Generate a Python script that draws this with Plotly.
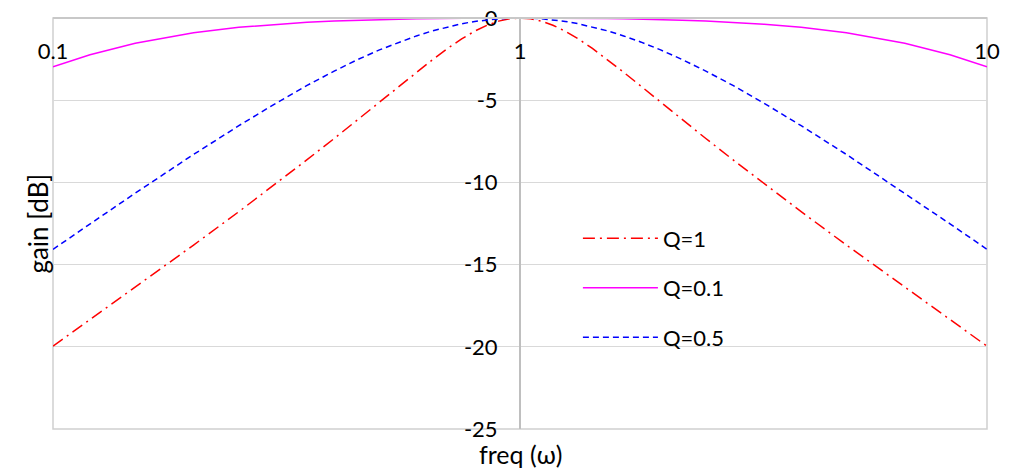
import plotly.graph_objects as go

freq = [0.1, 0.12, 0.15, 0.2, 0.25, 0.3, 0.35, 0.4, 0.45, 0.5, 0.55, 0.6, 0.65, 0.7, 0.75,
        0.8, 0.85, 0.9, 0.95, 1.0, 1.053, 1.111, 1.176, 1.25, 1.333, 1.429, 1.538, 1.667,
        1.818, 2.0, 2.222, 2.5, 2.857, 3.333, 4.0, 5.0, 6.667, 8.333, 10.0]

gain_q1 = [-19.96, -18.35, -16.38, -13.81, -11.78, -10.09, -8.62, -7.33, -6.17, -5.12,
           -4.16, -3.30, -2.53, -1.85, -1.27, -0.80, -0.44, -0.19, -0.05, 0.0,
           -0.05, -0.19, -0.44, -0.80, -1.27, -1.85, -2.53, -3.30, -4.16, -5.12,
           -6.17, -7.33, -8.62, -10.09, -11.78, -13.81, -16.38, -18.35, -19.96]

gain_q01 = [-2.97, -2.24, -1.54, -0.90, -0.57, -0.38, -0.26, -0.19, -0.13, -0.10,
            -0.07, -0.05, -0.03, -0.02, -0.01, -0.01, 0.0, 0.0, 0.0, 0.0,
            0.0, 0.0, 0.0, -0.01, -0.01, -0.02, -0.03, -0.05, -0.07, -0.10,
            -0.13, -0.19, -0.26, -0.38, -0.57, -0.90, -1.54, -2.24, -2.97]

gain_q05 = [-14.07, -12.52, -10.65, -8.30, -6.55, -5.19, -4.10, -3.23, -2.52, -1.94,
            -1.47, -1.09, -0.78, -0.54, -0.35, -0.21, -0.11, -0.05, -0.01, 0.0,
            -0.01, -0.05, -0.11, -0.21, -0.35, -0.54, -0.78, -1.09, -1.47, -1.94,
            -2.52, -3.23, -4.10, -5.19, -6.55, -8.30, -10.65, -12.52, -14.07]

x_ticks = [0.1, 1, 10]
x_tick_labels = ["0.1", "1", "10"]
y_ticks = [0, -5, -10, -15, -20, -25]
y_tick_labels = ["0", "-5", "-10", "-15", "-20", "-25"]

FONT = "Lato"

fig = go.Figure()
fig.add_trace(go.Scatter(x=freq, y=gain_q1, mode="lines", name="Q=1", legendgroup="a",
                         line=dict(color="#ff0000", width=1.5, dash="12px,5px,2px,5px")))
fig.add_trace(go.Scatter(x=freq, y=gain_q01, mode="lines", name="Q=0.1", legendgroup="b",
                         line=dict(color="#ff00ff", width=1.5)))
fig.add_trace(go.Scatter(x=freq, y=gain_q05, mode="lines", name="Q=0.5", legendgroup="c",
                         line=dict(color="#0000ff", width=1.5, dash="6px,4px")))

fig.update_layout(
    width=1012, height=469,
    margin=dict(l=53, r=25, t=18, b=40, autoexpand=False),
    plot_bgcolor="white", paper_bgcolor="white",
    font=dict(family=FONT, size=22, color="black"),
    showlegend=True,
    legend=dict(x=0.562, y=0.515, xanchor="left", yanchor="top",
                bgcolor="rgba(0,0,0,0)", tracegroupgap=18, itemwidth=75,
                font=dict(family=FONT, size=22)),
    xaxis=dict(type="log", range=[-1, 1], tickvals=x_ticks, ticktext=x_tick_labels,
               showgrid=True, gridcolor="#d9d9d9", gridwidth=1.3,
               anchor="free", position=1, side="bottom", ticks="",
               showline=True, linecolor="#c8c8c8", linewidth=1.5,
               ticklabelstandoff=14, zeroline=False, automargin=False,
               ticklabeloverflow="allow"),
    yaxis=dict(range=[-25, 0], tickvals=y_ticks, ticktext=y_tick_labels,
               showgrid=True, gridcolor="#d9d9d9",
               gridwidth=1.3, anchor="free", position=0.5, ticks="",
               showline=True, linecolor="#bfbfbf", linewidth=2,
               ticklabelstandoff=17, zeroline=False, layer="below traces",
               automargin=False, ticklabeloverflow="allow"),
    shapes=[dict(type="rect", xref="paper", yref="paper", x0=0, x1=1, y0=0, y1=1,
                 line=dict(color="#d0d0d0", width=1.5), layer="below")],
    annotations=[
        dict(text="gain [dB]", xref="paper", yref="paper", x=-0.017, y=0.5,
             textangle=-90, showarrow=False, font=dict(family=FONT, size=26),
             xanchor="center", yanchor="middle"),
        dict(text="freq (ω)", xref="paper", yref="paper", x=0.5, y=-0.06,
             showarrow=False, font=dict(family=FONT, size=25),
             xanchor="center", yanchor="middle"),
    ],
)

fig.write_html("out.html", config={"displayModeBar": False},
               post_script="document.body.style.margin='0';document.body.style.overflow='hidden';")
